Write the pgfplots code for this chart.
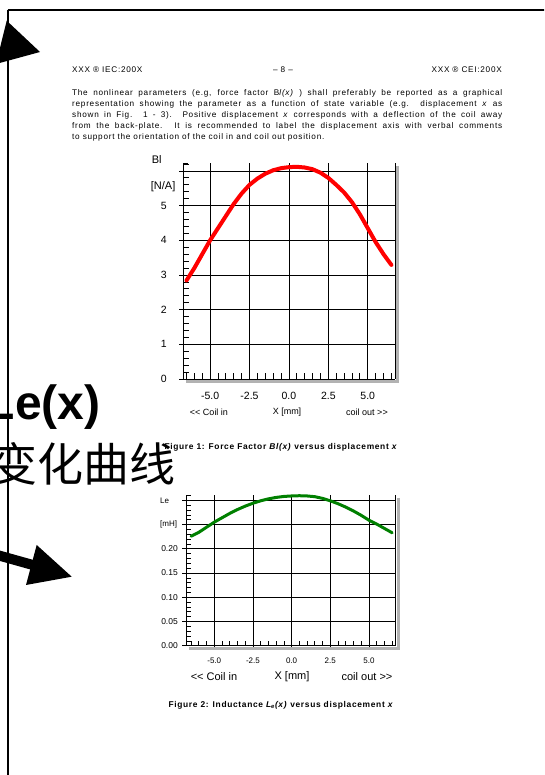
\documentclass[border=0pt]{standalone}
\usepackage{fontspec}
\setmainfont{Liberation Sans}
\newfontfamily\spaced[LetterSpace=9]{Liberation Sans}
\newfontfamily\capfont[LetterSpace=8]{Liberation Sans}
\newfontfamily\cjk{Noto Sans CJK SC}
\usepackage{pgfplots}
\pgfplotsset{compat=1.18}
\pgfplotstableread{
x y
-6.5 2.84
-6.0 3.20
-5.5 3.60
-5.0 4.00
-4.5 4.35
-4.0 4.70
-3.5 5.05
-3.0 5.35
-2.5 5.60
-2.0 5.78
-1.5 5.92
-1.0 6.02
-0.5 6.08
0.0 6.11
0.5 6.12
1.0 6.10
1.5 6.05
2.0 5.95
2.5 5.80
3.0 5.60
3.5 5.38
4.0 5.10
4.5 4.75
5.0 4.35
5.5 3.95
6.0 3.60
6.5 3.29
}\bltable
\pgfplotstableread{
x y
-6.5 0.226
-6.0 0.234
-5.5 0.2445
-5.0 0.255
-4.5 0.264
-4.0 0.273
-3.5 0.281
-3.0 0.288
-2.5 0.294
-2.0 0.299
-1.5 0.303
-1.0 0.306
-0.5 0.308
0.0 0.309
0.5 0.3095
1.0 0.309
1.5 0.3075
2.0 0.304
2.5 0.299
3.0 0.293
3.5 0.286
4.0 0.278
4.5 0.269
5.0 0.259
5.5 0.251
6.0 0.242
6.5 0.233
}\letable
\definecolor{legreen}{RGB}{0,128,0}
\newcommand{\dblless}{<\kern0pt<}
\newcommand{\dblgreater}{>\kern0pt>}
\begin{document}
\begin{tikzpicture}
\useasboundingbox (0,0) rectangle (544pt,775pt);
\clip (0,0) rectangle (544pt,775pt);
\fill[white] (0,0) rectangle (544pt,775pt);
% ---------- chart 1 ----------
\begin{axis}[
  at={(183pt,396pt)}, anchor=south west,
  scale only axis, width=212pt, height=216pt,
  xmin=-6.72, xmax=6.73, ymin=0, ymax=6.23,
  axis x line*=bottom, axis y line*=left,
  axis line style={black, line width=0.9pt},
  xtick={-5,-2.5,0,2.5,5}, xticklabels={-5.0,-2.5,0.0,2.5,5.0},
  ytick={0,1,2,3,4,5,6}, yticklabels={0,1,2,3,4,5,{}},
  minor xtick={-6.5,-6,-5.5,-4.5,-4,-3.5,-3,-2,-1.5,-1,-0.5,0.5,1,1.5,2,3,3.5,4,4.5,5.5,6,6.5},
  minor ytick={0.2,0.4,0.6,0.8,1.2,1.4,1.6,1.8,2.2,2.4,2.6,2.8,3.2,3.4,3.6,3.8,4.2,4.4,4.6,4.8,5.2,5.4,5.6,5.8,6.2},
  tick align=outside, major tick length=4pt, minor tick length=-5.5pt,
  tick style={black, line width=0.8pt},
  grid=major, major grid style={black, line width=0.8pt},
  clip=false,
  xticklabel style={font=\fontsize{10.5}{10.5}\selectfont, inner sep=0pt, yshift=-9pt},
  yticklabel style={font=\fontsize{10.5}{10.5}\selectfont, inner sep=0pt, xshift=-12pt},
]
\draw[black!30, line width=3pt] ([xshift=2.5pt,yshift=-3pt]rel axis cs:1,1) -- ([xshift=2.5pt,yshift=-2.5pt]rel axis cs:1,0) -- ([xshift=3pt,yshift=-2.5pt]rel axis cs:0,0);
\draw[black, line width=0.9pt] (rel axis cs:1,0) -- (rel axis cs:1,1);
\draw[black, line width=0.9pt] (rel axis cs:0,1) -- ([xshift=5pt]rel axis cs:0,1);
\addplot[red, line width=4pt, line cap=round, line join=round] table[x=x,y=y] {\bltable};
\node[anchor=west, inner sep=0pt, font=\fontsize{11}{11}\selectfont] at ([xshift=-31.3pt]axis cs:-6.72,6.32) {Bl};
\node[anchor=west, inner sep=0pt, font=\fontsize{11}{11}\selectfont] at ([xshift=-32.3pt]axis cs:-6.72,5.55) {[N/A]};
\end{axis}
% ---------- chart 2 ----------
\begin{axis}[
  at={(186pt,129.3pt)}, anchor=south west,
  scale only axis, width=209.7pt, height=150.7pt,
  xmin=-6.83, xmax=6.73, ymin=0, ymax=0.311,
  axis x line*=bottom, axis y line*=left,
  axis line style={black, line width=0.9pt},
  xtick={-5,-2.5,0,2.5,5}, xticklabels={-5.0,-2.5,0.0,2.5,5.0},
  ytick={0,0.05,0.1,0.15,0.2,0.25,0.3}, yticklabels={0.00,0.05,0.10,0.15,0.20,{},{}},
  minor xtick={-6.5,-6,-5.5,-4.5,-4,-3.5,-3,-2,-1.5,-1,-0.5,0.5,1,1.5,2,3,3.5,4,4.5,5.5,6,6.5},
  minor ytick={0.01,0.02,0.03,0.04,0.06,0.07,0.08,0.09,0.11,0.12,0.13,0.14,0.16,0.17,0.18,0.19,0.21,0.22,0.23,0.24,0.26,0.27,0.28,0.29,0.31},
  tick align=outside, major tick length=4pt, minor tick length=-4.5pt,
  tick style={black, line width=0.7pt},
  grid=major, major grid style={black, line width=0.7pt},
  clip=false,
  xticklabel style={font=\fontsize{8}{8}\selectfont, inner sep=0pt, yshift=-8pt},
  yticklabel style={font=\fontsize{8.5}{8.5}\selectfont, inner sep=0pt, xshift=-4pt},
]
\draw[black!30, line width=3pt] ([xshift=2.5pt,yshift=-3pt]rel axis cs:1,1) -- ([xshift=2.5pt,yshift=-2.5pt]rel axis cs:1,0) -- ([xshift=3pt,yshift=-2.5pt]rel axis cs:0,0);
\draw[black, line width=0.9pt] (rel axis cs:1,0) -- (rel axis cs:1,1);
\draw[black, line width=0.9pt] (rel axis cs:0,1) -- ([xshift=5pt]rel axis cs:0,1);
\addplot[legreen, line width=3pt, line cap=round, line join=round] table[x=x,y=y] {\letable};
\node[anchor=west, inner sep=0pt, font=\fontsize{8}{8}\selectfont] at ([xshift=-26pt]axis cs:-6.83,0.299) {Le};
\node[anchor=west, inner sep=0pt, font=\fontsize{8}{8}\selectfont] at ([xshift=-26pt]axis cs:-6.83,0.25) {[mH]};
\end{axis}
% ---------- page decorations, pixel coordinates ----------
\begin{scope}[x=1pt, y=-1pt, yshift=775pt]
  % page frame
  \draw[black, line width=2pt] (7.5,10.5) -- (560,10.5);
  \draw[black, line width=2pt] (7.5,10.5) -- (7.5,790);
  % header
  \node[anchor=west, inner sep=0pt, font=\spaced\fontsize{8.2}{8.2}\selectfont] at (72,69.5) {XXX ® IEC:200X};
  \node[inner sep=0pt, font=\spaced\fontsize{8.2}{8.2}\selectfont] at (283,69.5) {– 8 –};
  \node[anchor=east, inner sep=0pt, font=\spaced\fontsize{8.2}{8.2}\selectfont] at (502,69.5) {XXX ® CEI:200X};
  % paragraph
  \node[anchor=north west, inner sep=0pt, text width=430pt, align=justify, font=\spaced\fontsize{8.2}{11}\selectfont] at (72,89.5)
  {The nonlinear parameters (e.g, force factor B\textit{l(x)} ) shall preferably be reported as a graphical\linebreak
   representation showing the parameter as a function of state variable (e.g. displacement \textit{x} as\linebreak
   shown in Fig. 1 - 3). Positive displacement \textit{x} corresponds with a deflection of the coil away\linebreak
   from the back-plate. It is recommended to label the displacement axis with verbal comments\linebreak
   to support the orientation of the coil in and coil out position.};
  % chart 1 descriptions
  \node[inner sep=0pt, font=\fontsize{9}{9}\selectfont] at (209,412) {\dblless{} Coil in};
  \node[inner sep=0pt, font=\fontsize{9}{9}\selectfont] at (287,412) {X [mm]};
  \node[inner sep=0pt, font=\fontsize{9}{9}\selectfont] at (367,412) {coil out \dblgreater};
  \node[inner sep=0pt, font=\capfont\bfseries\fontsize{8.4}{8.4}\selectfont] at (281,447) {Figure 1: Force Factor \textit{Bl(x)} versus displacement \textit{x}};
  % chart 2 descriptions
  \node[inner sep=0pt, font=\fontsize{11}{11}\selectfont] at (214,677) {\dblless{} Coil in};
  \node[inner sep=0pt, font=\fontsize{11}{11}\selectfont] at (292,677) {X [mm]};
  \node[inner sep=0pt, font=\fontsize{11}{11}\selectfont] at (367,677) {coil out \dblgreater};
  \node[inner sep=0pt, font=\capfont\bfseries\fontsize{8.4}{8.4}\selectfont] at (281,705) {Figure 2: Inductance \textit{L\textsubscript{e}(x)} versus displacement \textit{x}};
  % overlay annotations
  \node[anchor=base west, inner sep=0pt, font=\bfseries\fontsize{48}{48}\selectfont] at (-14.5,420) {Le(x)};
  \node[anchor=base east, inner sep=0pt, font=\fontsize{46}{46}\selectfont] at (176,482) {\cjk 变化曲线};
  % arrows
  \fill[black] (6.7,20.7) -- (40,52) -- (-4,64) -- cycle;
  \draw[black, line width=10pt] (-10,553) -- (40,567);
  \fill[black] (36.7,545) -- (71.7,576.7) -- (26,585) -- cycle;
\end{scope}
\end{tikzpicture}
\end{document}
